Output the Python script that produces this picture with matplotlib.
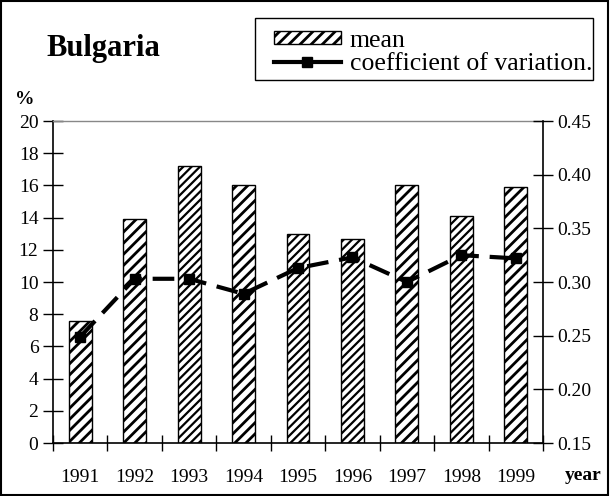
import numpy as np
import matplotlib
matplotlib.use("Agg")
import matplotlib.pyplot as plt
from matplotlib.patches import Rectangle, Patch
from matplotlib.lines import Line2D

years = ["1991", "1992", "1993", "1994", "1995", "1996", "1997", "1998", "1999"]
mean_vals = [7.6, 13.9, 17.2, 16.0, 13.0, 12.7, 16.0, 14.1, 15.9]
cv_vals = [0.249, 0.303, 0.303, 0.289, 0.313, 0.323, 0.300, 0.325, 0.322]
left_ticks = [0, 2, 4, 6, 8, 10, 12, 14, 16, 18, 20]
right_ticks = [0.15, 0.20, 0.25, 0.30, 0.35, 0.40, 0.45]
# bars whose hatch renders finer / greyer in the reference
fine_hatch = [False, False, True, False, True, True, False, True, False]

plt.rcParams['font.family'] = ['Liberation Serif', 'DejaVu Serif']
plt.rcParams['hatch.linewidth'] = 2.0
plt.rcParams['hatch.color'] = 'black'

W, H = 610, 496
fig = plt.figure(figsize=(W / 100, H / 100), dpi=100)
ax = fig.add_axes([53 / W, 1 - 443 / H, (543 - 53) / W, (443 - 121) / H])

x = np.arange(len(years))
bars = ax.bar(x, mean_vals, width=0.42, color='white', edgecolor='black',
              hatch='///', linewidth=1.0, zorder=2)
for b, fine in zip(bars, fine_hatch):
    if fine:
        b.set_hatch('////')
        if hasattr(b, 'set_hatch_linewidth'):
            b.set_hatch_linewidth(1.6)

ax.set_xlim(-0.5, len(years) - 0.5)
ax.set_ylim(0, 20)
ax.set_yticks(left_ticks)
ax.set_yticklabels([str(v) for v in left_ticks], fontsize=14)
ax.set_xticks(x)
ax.set_xticklabels(years, fontsize=14)
ax.tick_params(axis='x', which='major', length=0, pad=19)
ax.set_xticks(np.arange(-0.5, len(years)), minor=True)
ax.tick_params(axis='x', which='minor', length=12, direction='inout', width=1)
ax.tick_params(axis='y', length=15, direction='inout', width=1, pad=3)

for s in ['left', 'bottom']:
    ax.spines[s].set_color('black')
    ax.spines[s].set_linewidth(1.2)
ax.spines['top'].set_color('#888888')
ax.spines['top'].set_linewidth(1.0)
ax.spines['right'].set_visible(False)

ax2 = ax.twinx()
ax2.plot(x, cv_vals, color='black', linewidth=3, dashes=(5.2, 2.6),
         marker='s', markersize=7, zorder=3)
ax2.set_ylim(0.15, 0.45)
ax2.set_yticks(right_ticks)
ax2.set_yticklabels([f"{v:.2f}" for v in right_ticks], fontsize=14)
ax2.tick_params(axis='y', length=15, direction='inout', width=1, pad=3)
ax2.spines['right'].set_color('black')
ax2.spines['right'].set_linewidth(1.2)
ax2.spines['top'].set_visible(False)
ax2.spines['left'].set_visible(False)
ax2.spines['bottom'].set_visible(False)

fig.text(46 / W, 1 - 56 / H, "Bulgaria", fontsize=22, fontweight='bold',
         ha='left', va='baseline')
fig.text(15 / W, 1 - 100 / H, "%", fontsize=14, fontweight='bold',
         ha='left', va='center')
fig.text(565 / W, 1 - 476 / H, "year", fontsize=14, fontweight='bold',
         ha='left', va='center')

# legend box drawn separately to match its exact extent
fig.patches.append(Rectangle((255 / W, 1 - 80 / H), (593 - 255) / W, (80 - 18) / H,
                             transform=fig.transFigure, fill=True, facecolor='white',
                             edgecolor='black', linewidth=1.0, zorder=5))
h1 = Patch(facecolor='white', edgecolor='black', hatch='///', linewidth=1.0)
h2 = Line2D([], [], color='black', linewidth=3, marker='s', markersize=7)
leg = fig.legend([h1, h2], ["mean", "coefficient of variation."],
                 loc='upper left', bbox_to_anchor=(274 / W, 1 - 30 / H),
                 fontsize=18.5, frameon=False, borderaxespad=0, borderpad=0,
                 handlelength=2.6, handleheight=0.4, handletextpad=0.35,
                 labelspacing=0.02)
leg.set_zorder(6)

fig.patches.append(Rectangle((0.002, 0.002), 0.995, 0.995, transform=fig.transFigure,
                             fill=False, edgecolor='black', linewidth=1.5))

fig.savefig("out.png", dpi=100)
